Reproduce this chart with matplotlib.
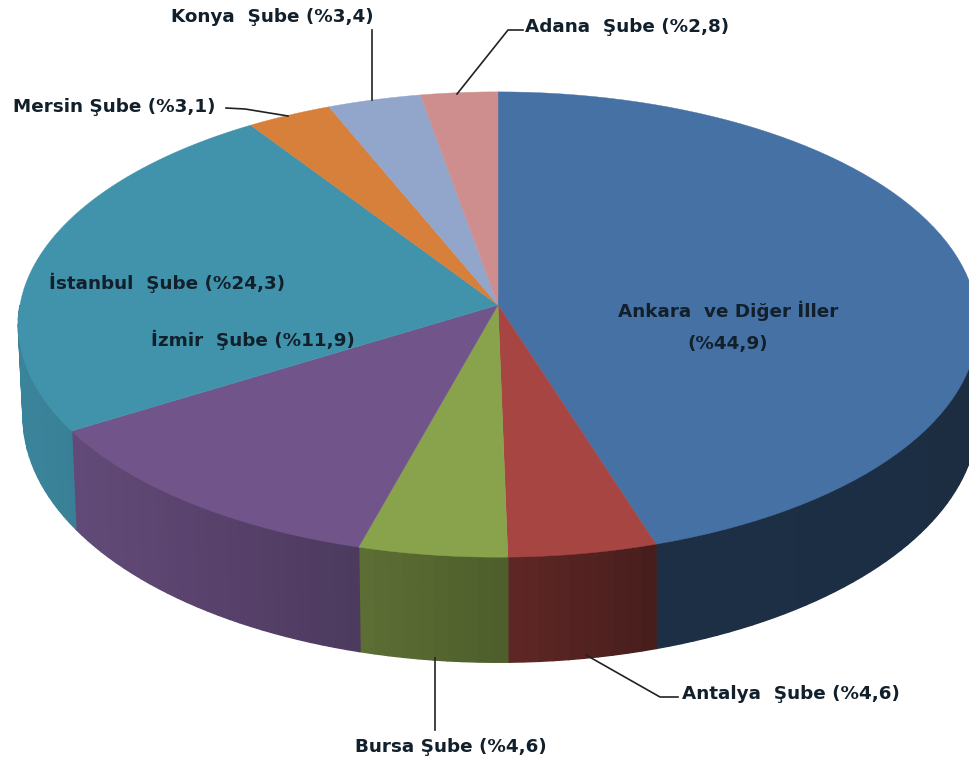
import numpy as np
import matplotlib
matplotlib.use("Agg")
import matplotlib.pyplot as plt

names = ["Ankara ve Diğer İller", "Antalya Şube", "Bursa Şube", "İzmir Şube",
         "İstanbul Şube", "Mersin Şube", "Konya Şube", "Adana Şube"]
values = [44.9, 4.6, 4.6, 11.9, 24.3, 3.1, 3.4, 2.8]
colors = ["#4571A5", "#A64542", "#88A34C", "#71558A",
          "#4193AC", "#D6803B", "#92A6CC", "#CE8E8E"]
labels = ["Ankara  ve Diğer İller\n(%44,9)", "Antalya  Şube (%4,6)", "Bursa Şube (%4,6)", "İzmir  Şube (%11,9)",
          "İstanbul  Şube (%24,3)", "Mersin Şube (%3,1)", "Konya  Şube (%3,4)", "Adana  Şube (%2,8)"]
label_pos = [(728, 327), (791, 694), (451, 747), (253, 340),
             (167, 283), (114, 107), (272, 17), (627, 27)]
# leader lines, one per outside label
leaders = {1: [(586, 655), (660, 697), (678, 697)],
           2: [(435, 658), (435, 730)],
           5: [(226, 108), (245, 109), (288, 116)],
           6: [(372, 30), (372, 100)],
           7: [(523, 30), (508, 30), (457, 94)]}

cx, cy = 498, 305
rx, a, k = 478, 231, 0.0839  # perspective of the tilted disc
depth0, depth_scale = 91, 1.056


def top(theta):
    X, Y = np.sin(theta), -np.cos(theta)
    w = 1 - k * Y
    return cx + rx * X / w, cy + a * Y / w


def bottom(theta):
    x, y = top(theta)
    sx = np.where(x < cx, 0.99, 1.0)
    return cx + sx * (x - cx), cy + depth0 + depth_scale * (y - cy)


def shade(x):
    return np.interp(x, [18, 76, 360, 510, 660, 969], [0.9, 0.87, 0.68, 0.57, 0.42, 0.40])


fig = plt.figure(figsize=(9.69, 7.67), dpi=100)
ax = fig.add_axes([0, 0, 1, 1])
ax.set_xlim(0, 969)
ax.set_ylim(767, 0)
ax.axis("off")

edges = 2 * np.pi * np.concatenate([[0], np.cumsum(values)]) / np.sum(values)

# side walls first, as thin strips so the shade runs along the rim
for i, c in enumerate(colors):
    rgb = np.array(matplotlib.colors.to_rgb(c))
    t0, t1 = edges[i], edges[i + 1]
    t0, t1 = max(t0, np.radians(90)), min(t1, np.radians(270))
    if t1 <= t0:
        continue
    ts = np.linspace(t0, t1, max(int((t1 - t0) * 40), 2))
    for u, v in zip(ts[:-1], ts[1:]):
        xa, ya = top(u)
        xb, yb = top(v)
        xc, yc = bottom(v)
        xd, yd = bottom(u)
        col = rgb * shade((xa + xb) / 2)
        ax.fill([xa, xb, xc, xd], [ya, yb, yc, yd], color=col, lw=1.0, zorder=1)

# top faces
for i, c in enumerate(colors):
    ts = np.linspace(edges[i], edges[i + 1], 80)
    xs, ys = top(ts)
    ax.fill(np.r_[cx, xs], np.r_[cy, ys], color=c, lw=0.3, zorder=2)

for i, pts in leaders.items():
    ax.plot([p[0] for p in pts], [p[1] for p in pts], color="#222222", lw=1.2, zorder=3)

for lab, (x, y) in zip(labels, label_pos):
    ax.text(x, y, lab, ha="center", va="center", fontsize=13.2, fontweight="bold",
            family="DejaVu Sans", color="#12202C", linespacing=1.95, zorder=4)

fig.savefig("out.png", dpi=100, facecolor="white")
